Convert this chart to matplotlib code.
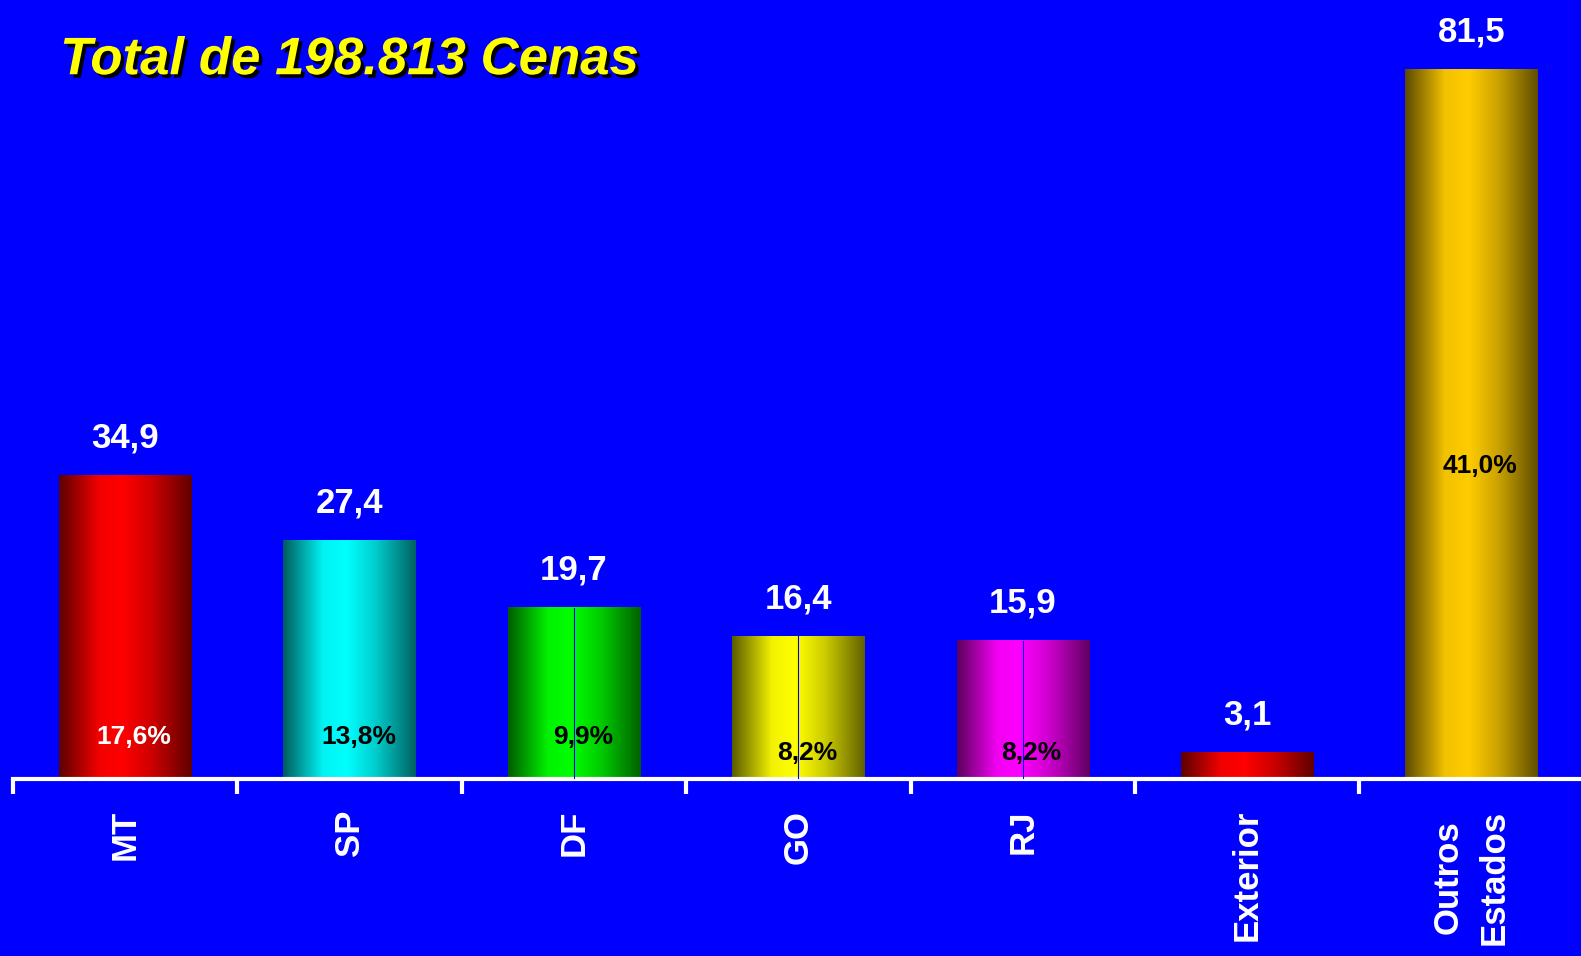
import numpy as np
import matplotlib.pyplot as plt
import matplotlib.patheffects as pe
from matplotlib import font_manager
from matplotlib.colors import to_rgb

categories = ['MT', 'SP', 'DF', 'GO', 'RJ', 'Exterior', 'Outros\nEstados']
values = [34.9, 27.4, 19.7, 16.4, 15.9, 3.1, 81.5]
value_labels = ['34,9', '27,4', '19,7', '16,4', '15,9', '3,1', '81,5']
pct_labels = ['17,6%', '13,8%', '9,9%', '8,2%', '8,2%', '', '41,0%']
bar_colors = ['#ff0000', '#00ffff', '#00ff00', '#ffff00', '#ff00ff', '#ff0000', '#ffcc00']

# layout bits (where the % labels sit inside each bar, text colour)
pct_y = [4.8, 4.8, 4.8, 3.0, 3.0, 0, 36.0]
pct_color = ['white', 'black', 'black', 'black', 'black', 'black', 'black']
split_line = ['DF', 'GO', 'RJ']

BG = '#0000ff'

# condensed font for the numbers if there is one
try:
    font_manager.findfont(font_manager.FontProperties(family='Liberation Sans Narrow', weight='bold'),
                          fallback_to_default=False)
    NARROW, num_size, pct_size = 'Liberation Sans Narrow', 29, 22
except ValueError:
    NARROW, num_size, pct_size = 'Liberation Sans', 25, 19

fig = plt.figure(figsize=(15.81, 9.56), dpi=100)
fig.patch.set_facecolor(BG)
ax = fig.add_axes([0.0083, 0.185, 0.9934, 0.815])
ax.set_facecolor(BG)

width = 0.59
x = np.arange(len(categories))

# cylinder shading across each bar
t = np.linspace(0, 1, 200)
shade = np.interp(t, [0, 0.3, 0.48, 0.7, 1], [0.36, 0.95, 1.0, 0.8, 0.38])

for i, (v, c) in enumerate(zip(values, bar_colors)):
    rgb = np.array(to_rgb(c))
    img = (shade[:, None] * rgb[None, :])[None, :, :]
    ax.imshow(img, extent=(x[i] - width / 2, x[i] + width / 2, 0, v),
              aspect='auto', zorder=2, interpolation='bilinear')
    if categories[i] in split_line:
        ax.plot([x[i], x[i]], [0, v], color=BG, lw=0.8, zorder=3)
    ax.annotate(value_labels[i], (x[i], v), xytext=(0, 15), textcoords='offset points',
                ha='center', va='bottom', color='white', fontsize=num_size,
                fontweight='bold', family=NARROW, zorder=4)
    if pct_labels[i]:
        ax.text(x[i] + 0.04, pct_y[i], pct_labels[i], ha='center', va='center',
                color=pct_color[i], fontsize=pct_size, fontweight='bold', family=NARROW, zorder=4)

ax.set_xlim(-0.5, len(categories) - 0.5)
ax.set_ylim(0, 89.5)

for s in ['top', 'right', 'left']:
    ax.spines[s].set_visible(False)
ax.spines['bottom'].set_color('white')
ax.spines['bottom'].set_linewidth(3)
ax.set_yticks([])

ax.set_xticks(x)
ax.set_xticklabels(categories, rotation=90, color='white', fontsize=25,
                   fontweight='bold', family='Liberation Sans', ma='center', linespacing=1.5)
ax.tick_params(axis='x', which='major', length=0, pad=22)
ax.set_xticks(np.arange(len(categories)) - 0.5, minor=True)
ax.tick_params(axis='x', which='minor', length=11, width=3, color='white')

fig.text(0.038, 0.937, 'Total de 198.813 Cenas', color='#ffff00', fontsize=38,
         fontweight='bold', style='italic', family='Liberation Sans', va='center',
         path_effects=[pe.SimplePatchShadow(offset=(2.5, -2.5), shadow_rgbFace='black', alpha=1),
                       pe.Normal()])

fig.savefig('out.png', dpi=100, facecolor=BG)
